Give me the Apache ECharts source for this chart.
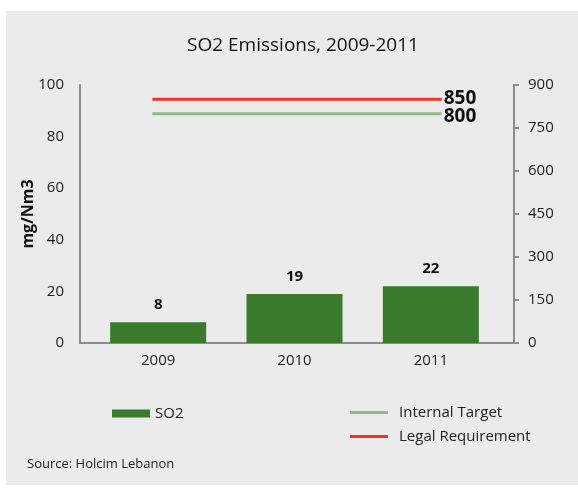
<!DOCTYPE html>
<html>
<head>
<meta charset="utf-8">
<script src="https://cdn.jsdelivr.net/npm/echarts@6/dist/echarts.min.js"></script>
<style>
  html, body { margin: 0; padding: 0; background: #fff; }
  #chart { width: 578px; height: 489px; }
</style>
</head>
<body>
<div id="chart"></div>
<script>
const years = ['2009', '2010', '2011']
const so2 = [8, 19, 22]
const internalTarget = [800, 800, 800]
const legalRequirement = [850, 850, 850]

const FONT = 'Open Sans'
const axisGray = '#8b8b90'

const chart = echarts.init(document.getElementById('chart'))

const option = {
  backgroundColor: '#fff',
  textStyle: { fontFamily: FONT },
  graphic: [
    {
      type: 'rect', left: 6, top: 11, z: -10,
      shape: { width: 572, height: 474 },
      style: { fill: '#ebebeb' }
    },
    {
      type: 'text', left: 27, top: 458,
      style: { text: 'Source: Holcim Lebanon', fontSize: 13, fill: '#222', fontFamily: FONT }
    }
  ],
  title: {
    text: 'SO2 Emissions, 2009-2011',
    left: 298, top: 31, textAlign: 'center',
    textStyle: { fontSize: 19, fontWeight: 500, color: '#111', fontFamily: FONT }
  },
  legend: [
    {
      data: ['SO2'], left: 107, top: 401,
      icon: 'rect', itemWidth: 38, itemHeight: 8,
      textStyle: { fontSize: 15, color: '#222' }
    },
    {
      data: ['Internal Target', 'Legal Requirement'], left: 345, top: 400,
      orient: 'vertical', icon: 'rect', itemWidth: 38, itemHeight: 3, itemGap: 9,
      textStyle: { fontSize: 15, color: '#222', padding: [0, 0, 0, 6] }
    }
  ],
  grid: [
    { left: 80, right: 64, top: 85, bottom: 146 },
    { left: 90, right: 79, top: 85, bottom: 146 }
  ],
  xAxis: [
    {
      type: 'category', gridIndex: 0, data: years,
      axisLine: { lineStyle: { color: axisGray, width: 2 } },
      axisTick: { show: false }, axisLabel: { show: false }
    },
    {
      type: 'category', gridIndex: 1, data: years,
      axisLine: { show: false }, axisTick: { show: false },
      axisLabel: { fontSize: 15, color: '#222', margin: 10 }
    }
  ],
  yAxis: [
    {
      type: 'value', gridIndex: 0, min: 0, max: 100, interval: 20,
      name: 'mg/Nm3', nameLocation: 'middle', nameGap: 44, nameRotate: 90,
      nameMoveOverlap: false,
      nameTextStyle: { fontSize: 16, fontWeight: 'bold', color: '#111' },
      axisLine: { show: true, lineStyle: { color: axisGray, width: 2 } },
      axisTick: { show: false }, splitLine: { show: false },
      axisLabel: { fontSize: 15, color: '#222', margin: 16 }
    },
    {
      type: 'value', gridIndex: 0, position: 'right', min: 0, max: 900, interval: 150,
      axisLine: { show: true, lineStyle: { color: axisGray, width: 2 } },
      axisTick: { show: true, length: 5, lineStyle: { color: axisGray, width: 2 } },
      splitLine: { show: false },
      axisLabel: { fontSize: 15, color: '#222', margin: 14 }
    },
    {
      type: 'value', gridIndex: 1, min: 0, max: 100, show: false
    }
  ],
  series: [
    {
      name: 'SO2', type: 'bar', xAxisIndex: 1, yAxisIndex: 2,
      data: so2, barWidth: 96,
      itemStyle: { color: '#3a7a2d' },
      label: {
        show: true, position: 'top', distance: 10,
        fontSize: 15, fontWeight: 'bold', color: '#111'
      }
    },
    {
      name: 'Internal Target', type: 'line', xAxisIndex: 0, yAxisIndex: 1,
      data: internalTarget, symbol: 'none',
      itemStyle: { color: '#93b987' },
      lineStyle: { color: '#93b987', width: 3 },
      endLabel: { show: true, distance: 2, fontSize: 19, fontWeight: 'bold', color: '#111', offset: [0, 3] }
    },
    {
      name: 'Legal Requirement', type: 'line', xAxisIndex: 0, yAxisIndex: 1,
      data: legalRequirement, symbol: 'none',
      itemStyle: { color: '#f0342a' },
      lineStyle: { color: '#f0342a', width: 3 },
      endLabel: { show: true, distance: 2, fontSize: 19, fontWeight: 'bold', color: '#111', offset: [0, -1] }
    }
  ]
}

chart.setOption(option)
window.addEventListener('resize', () => chart.resize())
</script>
</body>
</html>
